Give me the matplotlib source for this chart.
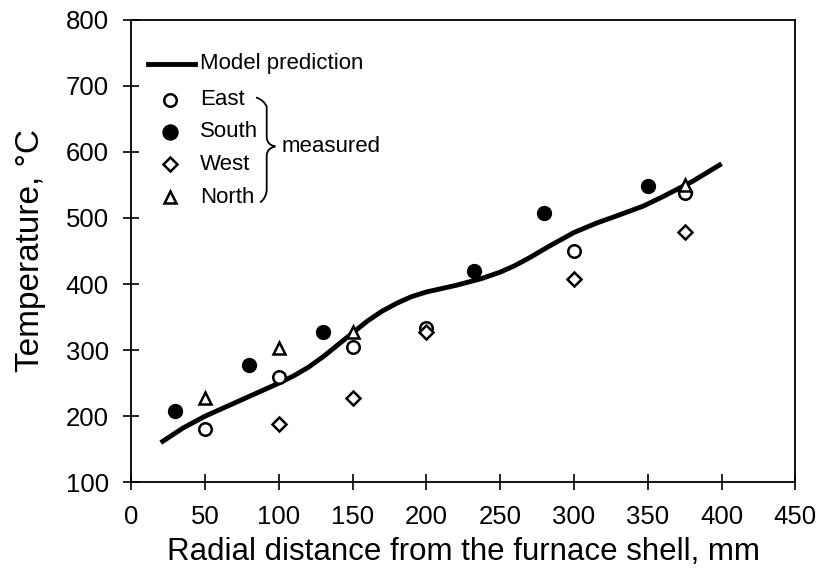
import matplotlib.pyplot as plt
from matplotlib.path import Path
from matplotlib.patches import PathPatch

plt.rcParams['font.family'] = ['Liberation Sans', 'DejaVu Sans']

# model prediction curve
model_x = [20, 35, 50, 75, 100, 110, 120, 130, 140, 150, 160, 170, 180, 190,
           200, 220, 237, 250, 260, 270, 283, 300, 315, 330, 347, 360, 380, 400]
model_y = [160, 182, 200, 225, 250, 261, 274, 290, 308, 326, 344, 359, 371, 381,
           388, 398, 408, 418, 428, 440, 457, 478, 492, 504, 518, 532, 555, 582]

# measured points
east_x = [50, 100, 150, 200, 300, 375]
east_y = [180, 260, 305, 333, 450, 538]
south_x = [30, 80, 130, 232, 280, 350]
south_y = [208, 278, 328, 420, 508, 548]
west_x = [100, 150, 200, 300, 375]
west_y = [188, 228, 328, 408, 478]
north_x = [50, 100, 150, 375]
north_y = [228, 303, 328, 550]

fig = plt.figure(figsize=(8.2, 5.79), dpi=100)
ax = fig.add_axes([0.16, 0.167, 0.81, 0.799])

ax.plot(model_x, model_y, 'k-', lw=3.5, solid_capstyle='butt', zorder=2)
ax.plot(east_x, east_y, 'o', ms=9, mfc='white', mec='black', mew=1.8, zorder=3)
ax.plot(south_x, south_y, 'o', ms=10, mfc='black', mec='black', zorder=3)
ax.plot(west_x, west_y, 'D', ms=7, mfc='white', mec='black', mew=1.8, zorder=3)
ax.plot(north_x, north_y, '^', ms=9, mfc='white', mec='black', mew=1.8, zorder=3)

ax.set_xlim(0, 450)
ax.set_ylim(100, 800)
ax.set_xticks(range(0, 451, 50))
ax.set_yticks(range(100, 801, 100))
ax.tick_params(direction='inout', length=12, width=1.2, labelsize=18.5, pad=10)
for s in ax.spines.values():
    s.set_linewidth(1.3)

ax.set_xlabel('Radial distance from the furnace shell, mm', fontsize=22.5, labelpad=6)
ax.set_ylabel('Temperature, °C', fontsize=24, labelpad=14)

# hand-made legend
tr = ax.transAxes
ax.plot([0.026, 0.096], [0.905, 0.905], 'k-', lw=3.5, transform=tr)
ax.text(0.104, 0.905, 'Model prediction', transform=tr, fontsize=16, va='center')
leg = [('East', 'o', 'white', 9), ('South', 'o', 'black', 10),
       ('West', 'D', 'white', 7), ('North', '^', 'white', 9)]
ys = [0.827, 0.758, 0.687, 0.616]
for (lab, m, fc, ms), y in zip(leg, ys):
    ax.plot([0.059], [y], m, ms=ms, mfc=fc, mec='black', mew=1.8, transform=tr)
    ax.text(0.104, y, lab, transform=tr, fontsize=16, va='center')

# curly brace
verts = [(0.188, 0.832), (0.200, 0.826), (0.204, 0.812),
         (0.204, 0.745), (0.205, 0.729), (0.217, 0.726),
         (0.205, 0.723), (0.204, 0.707),
         (0.204, 0.630), (0.202, 0.612), (0.194, 0.605)]
codes = [Path.MOVETO, Path.CURVE3, Path.CURVE3,
         Path.LINETO, Path.CURVE3, Path.CURVE3,
         Path.CURVE3, Path.CURVE3,
         Path.LINETO, Path.CURVE3, Path.CURVE3]
ax.add_patch(PathPatch(Path(verts, codes), fill=False, lw=1.3, transform=tr))
ax.text(0.227, 0.726, 'measured', transform=tr, fontsize=16, va='center')

fig.savefig('out.png', dpi=100)
